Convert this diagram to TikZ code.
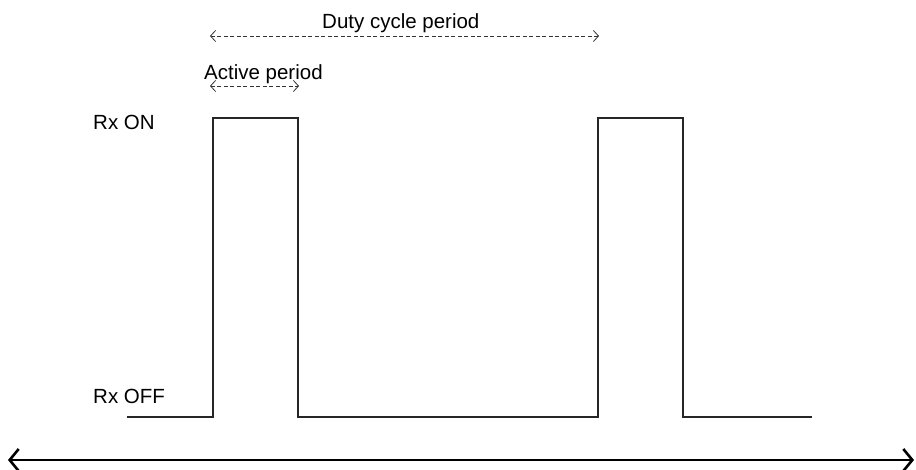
\documentclass[tikz,border=0pt]{standalone}
\usepackage{fontspec}
\setmainfont{Liberation Sans}
\usetikzlibrary{arrows.meta}
\begin{document}
\begin{tikzpicture}[x=1pt,y=-1pt,
  lbl/.style={anchor=base west,inner sep=0pt,font=\fontsize{20.5}{24}\selectfont},
  wave/.style={line width=1.1pt,draw=black!85},
  span/.style={dashed,dash pattern=on 4pt off 2.5pt,line width=0.7pt,black!80,
    {Straight Barb[length=5pt,width=11pt,line width=0.8pt]}-{Straight Barb[length=5pt,width=11pt,line width=0.8pt]}},
  axis/.style={line width=2.6pt,
    {Straight Barb[length=9pt,width=22pt,line width=2.6pt]}-{Straight Barb[length=9pt,width=22pt,line width=2.6pt]}}]
\useasboundingbox (0,0) rectangle (916,470);

% signal levels
\node[lbl] (on)  at (93,130) {Rx ON};
\node[lbl] (off) at (93,403) {Rx OFF};

% receiver on/off waveform
\coordinate (w0) at (127,417);
\coordinate (w1) at (213,417);
\coordinate (w2) at (213,118);
\coordinate (w3) at (298,118);
\coordinate (w4) at (298,417);
\coordinate (w5) at (598,417);
\coordinate (w6) at (598,118);
\coordinate (w7) at (683,118);
\coordinate (w8) at (683,417);
\coordinate (w9) at (812,417);
\draw[wave] (w0) -- (w1) -- (w2) -- (w3) -- (w4) -- (w5) -- (w6) -- (w7) -- (w8) -- (w9);

% period markers
\coordinate (d0) at (210,36);
\coordinate (d1) at (599,36);
\draw[span] (d0) -- (d1);
\node[lbl] (dlab) at (322,29) {Duty cycle period};

\coordinate (a0) at (210,86);
\coordinate (a1) at (299,86);
\draw[span] (a0) -- (a1);
\node[lbl] (alab) at (204,80) {Active period};

% time axis
\coordinate (t0) at (8,460);
\coordinate (t1) at (914,460);
\draw[axis] (t0) -- (t1);
\end{tikzpicture}
\end{document}
